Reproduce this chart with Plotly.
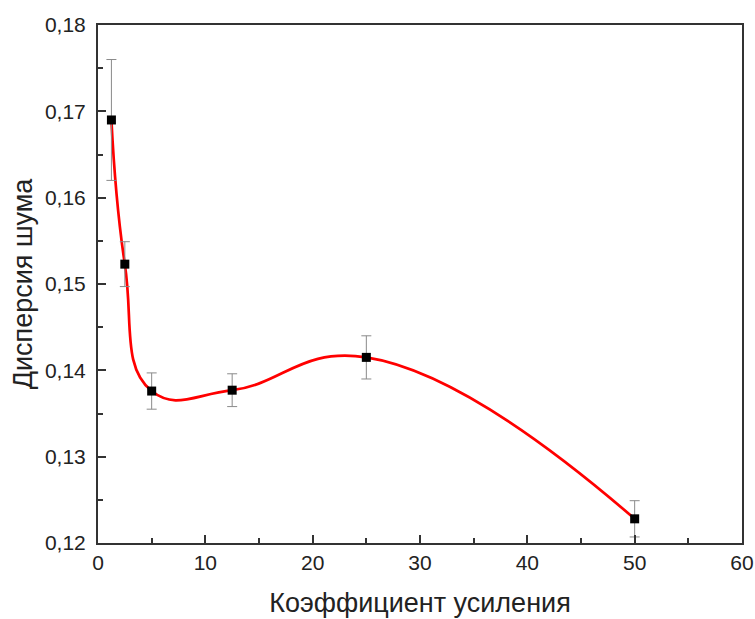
import plotly.graph_objects as go

gain = [1.25, 2.5, 5, 12.5, 25, 50]
dispersion = [0.1690, 0.1523, 0.1376, 0.1377, 0.1415, 0.1228]
err = [0.0070, 0.0026, 0.0021, 0.0019, 0.0025, 0.0021]

x_title = "Коэффициент усиления"
y_title = "Дисперсия шума"

font_family = "Liberation Sans, Arial, sans-serif"

fig = go.Figure()
fig.add_trace(go.Scatter(
    x=gain, y=dispersion, mode="lines",
    line=dict(color="#ff0000", width=2.7, shape="spline", smoothing=1.3),
    hoverinfo="skip", showlegend=False,
))
fig.add_trace(go.Scatter(
    x=gain, y=dispersion, mode="markers",
    marker=dict(symbol="square", size=9, color="black"),
    error_y=dict(type="data", array=err, visible=True, color="#8a8a8a", thickness=1, width=5),
    showlegend=False,
))

fig.update_layout(
    width=755, height=619,
    margin=dict(l=98, r=13, t=25, b=76),
    paper_bgcolor="white", plot_bgcolor="white",
    separators=", ",
    font=dict(family=font_family, color="#222222"),
)
fig.update_xaxes(
    range=[0, 60], dtick=10, tick0=0, automargin=False,
    showline=True, linecolor="#333333", linewidth=2, mirror=True,
    ticks="inside", ticklen=8, tickwidth=1.5, tickcolor="#333333",
    minor=dict(ticks="inside", ticklen=5, dtick=5, tickwidth=1.5, tickcolor="#333333"),
    showgrid=False, zeroline=False,
    tickfont=dict(size=21, family=font_family, color="#222222"),
    title=dict(text=x_title, font=dict(size=27, family=font_family, color="#222222"), standoff=20),
)
fig.update_yaxes(
    range=[0.12, 0.18], dtick=0.01, tick0=0.12, tickformat=".2f", automargin=False,
    showline=True, linecolor="#333333", linewidth=2, mirror=True,
    ticks="inside", ticklen=8, tickwidth=1.5, tickcolor="#333333",
    minor=dict(ticks="inside", ticklen=5, dtick=0.005, tickwidth=1.5, tickcolor="#333333"),
    showgrid=False, zeroline=False,
    tickfont=dict(size=21, family=font_family, color="#222222"),
    ticklabelstandoff=6,
    title=dict(text=y_title, font=dict(size=27, family=font_family, color="#222222"), standoff=4),
)

fig.write_html("out.html")
